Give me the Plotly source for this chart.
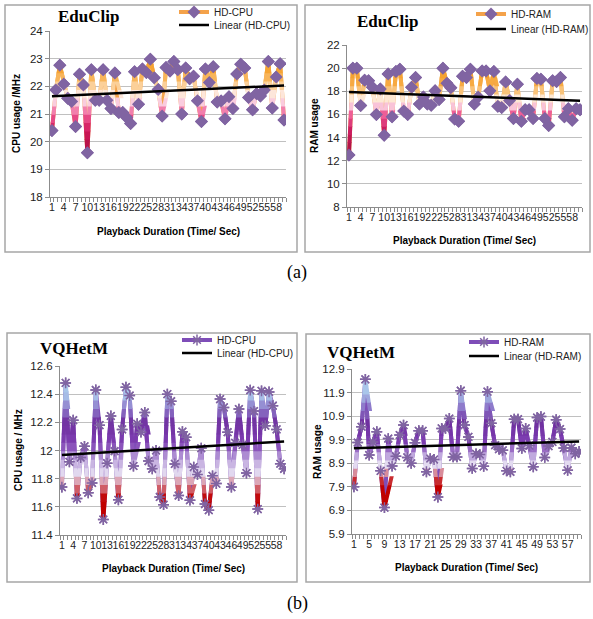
import numpy as np
import plotly.graph_objects as go

W, H = 593, 619

# ---------------- data ----------------
time_sec = list(range(1, 61))

educlip_cpu = [20.4, 21.87, 22.76, 22.08, 21.57, 21.45, 20.55, 22.44, 22.05, 19.6,
               22.6, 21.5, 21.5, 22.6, 21.5, 21.2, 22.48, 21.05, 21.05, 20.87,
               20.66, 22.53, 21.35, 22.63, 22.5, 22.98, 22.31, 21.89, 20.93, 22.68,
               22.55, 22.9, 22.6, 21.0, 22.66, 22.27, 22.36, 21.48, 20.73, 22.63,
               22.14, 22.71, 21.43, 21.47, 20.83, 21.62, 21.2, 22.45, 22.8, 22.66,
               21.6, 21.15, 21.73, 21.65, 21.87, 22.9, 21.22, 22.34, 22.82, 20.78]

educlip_ram = [12.49, 20.0, 20.0, 16.77, 18.95, 18.9, 18.35, 16.0, 18.2, 14.2,
               19.5, 15.8, 19.7, 19.9, 16.3, 16.0, 18.35, 19.2, 16.9, 17.5,
               16.9, 16.8, 18.05, 17.3, 20.0, 18.7, 18.3, 15.6, 15.4, 19.3,
               19.2, 19.9, 16.9, 17.5, 19.75, 19.75, 18.05, 19.7, 16.7, 16.6,
               18.8, 17.2, 15.65, 18.6, 15.4, 16.4, 16.4, 15.65, 19.1, 19.05,
               15.65, 15.05, 18.9, 18.85, 19.2, 15.8, 16.5, 15.5, 16.5, 16.4]

vqhetm_cpu = [11.74, 12.48, 11.92, 12.215, 11.66, 11.95, 12.03, 11.70, 11.77, 12.43,
              12.18, 11.51, 11.91, 12.245, 11.995, 11.65, 12.15, 12.45, 12.39, 11.89,
              12.19, 12.13, 12.27, 11.925, 11.87, 12.0, 11.67, 11.615, 12.40, 12.35,
              11.905, 11.68, 12.134, 12.094, 11.647, 11.882, 11.83, 12.016, 11.62, 11.576,
              11.82, 11.765, 12.365, 12.306, 12.13, 11.74, 12.054, 12.294, 12.04, 11.84,
              12.428, 12.28, 11.584, 12.424, 12.176, 12.416, 12.318, 12.15, 11.906, 11.87]

vqhetm_ram = [7.9, 9.78, 10.45, 12.46, 9.25, 9.8, 10.24, 8.58, 7.02, 9.95,
              8.78, 9.2, 10.1, 10.52, 9.15, 8.9, 9.77, 10.28, 10.28, 8.54,
              9.1, 9.06, 7.47, 10.38, 10.38, 10.8, 9.17, 9.17, 11.98, 10.52,
              10.02, 8.68, 9.3, 9.27, 8.77, 11.94, 10.6, 9.67, 9.5, 9.45,
              8.58, 8.54, 10.77, 10.77, 9.53, 10.38, 9.65, 8.75, 10.84, 10.88,
              9.15, 9.63, 9.81, 10.75, 10.35, 9.55, 8.6, 9.56, 9.3, 9.4]

xtick_every3 = list(range(1, 59, 3))      # 1, 4, 7, ... 58
xtick_every4 = list(range(1, 58, 4))      # 1, 5, 9, ... 57
ytick_edu_cpu = [18, 19, 20, 21, 22, 23, 24]
ytick_edu_ram = [8, 10, 12, 14, 16, 18, 20, 22]
ytick_vq_cpu = [11.4, 11.6, 11.8, 12.0, 12.2, 12.4, 12.6]
ytick_vq_cpu_text = ["11.4", "11.6", "11.8", "12", "12.2", "12.4", "12.6"]
ytick_vq_ram = [5.9, 6.9, 7.9, 8.9, 9.9, 10.9, 11.9, 12.9]
ytick_vq_ram_text = ["5.9", "6.9", "7.9", "8.9", "9.9", "10.9", "11.9", "12.9"]

# ---------------- styling ----------------
EDU_CPU_GRAD = [(19.6, '#A8103E'), (20.4, '#D0185A'), (21.0, '#EE5C96'), (21.5, '#FCDDE9'),
                (21.8, '#FDE9D6'), (22.2, '#F9BE6E'), (22.6, '#F6A434'), (23.0, '#F5A02E')]
EDU_RAM_GRAD = [(12.5, '#A8103E'), (14.5, '#C8185A'), (16.0, '#EE5C96'), (16.9, '#FCDDE9'),
                (17.4, '#FDE9D6'), (18.2, '#F9BE6E'), (19.0, '#F6A434'), (20.0, '#F5A02E')]
VQ_CPU_GRAD = [(11.5, '#C00000'), (11.66, '#C00000'), (11.76, '#D88A98'), (11.84, '#E4DCF0'),
               (11.95, '#B79CD9'), (12.05, '#7E3FB2'), (12.2, '#7030A0'), (12.3, '#8E7ACB'),
               (12.4, '#A9C6EA'), (12.5, '#A9C6EA')]
VQ_RAM_GRAD = [(7.0, '#C00000'), (8.0, '#C00000'), (8.5, '#D88A98'), (8.85, '#E4DCF0'),
               (9.3, '#B79CD9'), (9.8, '#7E3FB2'), (10.6, '#7030A0'), (11.3, '#8E7ACB'),
               (11.9, '#A9C6EA'), (12.6, '#A9C6EA')]

panels = [
    dict(vals=educlip_cpu, name='HD-CPU', title='EduClip', ytitle='CPU usage /MHz',
         yr=(18, 24), yt=ytick_edu_cpu, ytt=[str(v) for v in ytick_edu_cpu], xt=xtick_every3,
         box=(50, 286, 31, 197), grad=EDU_CPU_GRAD, legcol='#F4A24A',
         marker=dict(symbol='diamond', size=10, color='#8064A2'),
         title_xy=(88, 17), ytitle_xy=(17, 114), xtitle_xy=(168, 231),
         leg_x=174, leg_y=(12, 25), frame=(5, 297, 5, 252)),
    dict(vals=educlip_ram, name='HD-RAM', title='EduClip', ytitle='RAM usage',
         yr=(8, 22), yt=ytick_edu_ram, ytt=[str(v) for v in ytick_edu_ram], xt=xtick_every3,
         box=(347, 582, 45, 207), grad=EDU_RAM_GRAD, legcol='#F4A24A',
         marker=dict(symbol='diamond', size=10, color='#8064A2'),
         title_xy=(387, 21), ytitle_xy=(314, 126), xtitle_xy=(464, 240),
         leg_x=471, leg_y=(14, 29), frame=(305, 590, 5, 252)),
    dict(vals=vqhetm_cpu, name='HD-CPU', title='VQHetM', ytitle='CPU usage / MHz',
         yr=(11.4, 12.6), yt=ytick_vq_cpu, ytt=ytick_vq_cpu_text, xt=xtick_every3,
         box=(60, 286, 366, 535), grad=VQ_CPU_GRAD, legcol='#7E4DB8',
         marker=dict(symbol='asterisk-open', size=9, color='#8064A2', line=dict(width=1.5, color='#8064A2')),
         title_xy=(74, 348), ytitle_xy=(18, 450), xtitle_xy=(173, 568),
         leg_x=177, leg_y=(340, 353), frame=(7, 297, 333, 582)),
    dict(vals=vqhetm_ram, name='HD-RAM', title='VQHetM', ytitle='RAM usage',
         yr=(5.9, 12.9), yt=ytick_vq_ram, ytt=ytick_vq_ram_text, xt=xtick_every4,
         box=(352, 581, 369, 534), grad=VQ_RAM_GRAD, legcol='#7E4DB8',
         marker=dict(symbol='asterisk-open', size=9, color='#8064A2', line=dict(width=1.5, color='#8064A2')),
         title_xy=(361, 352), ytitle_xy=(317, 451), xtitle_xy=(466, 567),
         leg_x=464, leg_y=(342, 356), frame=(306, 590, 334, 582)),
]

N_BANDS = 20
LINE_W = 4
FONT = 'Liberation Sans'


def hex2rgb(h):
    h = h.lstrip('#')
    return tuple(int(h[i:i + 2], 16) for i in (0, 2, 4))


def grad_color(stops, v):
    if v <= stops[0][0]:
        return stops[0][1]
    if v >= stops[-1][0]:
        return stops[-1][1]
    for (v0, c0), (v1, c1) in zip(stops[:-1], stops[1:]):
        if v0 <= v <= v1:
            t = (v - v0) / (v1 - v0)
            a, b = hex2rgb(c0), hex2rgb(c1)
            r = [round(a[i] + (b[i] - a[i]) * t) for i in range(3)]
            return 'rgb(%d,%d,%d)' % tuple(r)
    return stops[-1][1]


def px_x(p):
    return p / W


def px_y(p):
    return 1 - p / H


fig = go.Figure()
layout = dict(width=W, height=H, margin=dict(l=0, r=0, t=0, b=0, autoexpand=False),
              paper_bgcolor='white', plot_bgcolor='rgba(0,0,0,0)', showlegend=True,
              font=dict(family=FONT, size=11, color='#222'))
annotations = []
shapes = []

ycount = 9   # two-digit axis ids keep the layer order unambiguous
legcount = 0


def next_y():
    global ycount
    ycount += 1
    return 'y%d' % ycount, 'yaxis%d' % ycount


def next_legend():
    global legcount
    legcount += 1
    return 'legend' if legcount == 1 else 'legend%d' % legcount


for k, p in enumerate(panels, start=1):
    xname = 'x' if k == 1 else 'x%d' % k
    xkey = 'xaxis' if k == 1 else 'xaxis%d' % k
    x0, x1, ytop, ybot = p['box']
    xd = [px_x(x0), px_x(x1)]
    yd = [px_y(ybot), px_y(ytop)]
    lo, hi = p['yr']

    ymain, ymainkey = next_y()
    layout[xkey] = dict(domain=xd, anchor=ymain, range=[0.5, 60.5], tickmode='array',
                        tickvals=p['xt'], ticktext=[str(v) for v in p['xt']], tickangle=0,
                        ticks='', showgrid=False, zeroline=False, showline=True,
                        linecolor='#8C8C8C', linewidth=1, fixedrange=True,
                        tickfont=dict(family=FONT, size=10.5, color='#222'),
                        minor=dict(tickmode='linear', tick0=0.5, dtick=1, ticks='outside',
                                   ticklen=4, tickcolor='#8C8C8C', showgrid=False))
    layout[ymainkey] = dict(domain=yd, anchor=xname, range=[lo, hi], tickmode='array',
                            tickvals=p['yt'], ticktext=p['ytt'], ticks='outside', ticklen=4,
                            tickcolor='#8C8C8C', showgrid=True, gridcolor='#C0C0C0',
                            gridwidth=1.3, zeroline=False, showline=True, linecolor='#8C8C8C',
                            linewidth=1, fixedrange=True,
                            tickfont=dict(family=FONT, size=11.5, color='#222'))

    leg_series = next_legend()
    leg_trend = next_legend()

    # base series (also provides the legend entry)
    fig.add_trace(go.Scatter(x=time_sec, y=p['vals'], mode='lines+markers', name=p['name'],
                             line=dict(color=p['legcol'], width=LINE_W), marker=p['marker'],
                             xaxis=xname, yaxis=ymain, legend=leg_series, hoverinfo='skip'))

    # vertical colour gradient: the same series drawn in horizontal slices, each slice
    # being its own subplot whose domain/range match the main axis scale
    step = (hi - lo) / N_BANDS
    px_val = (hi - lo) / (ybot - ytop)
    for i in range(N_BANDS):
        v0 = lo + i * step
        v1 = v0 + step
        if i > 0:
            v0 -= 0.8 * px_val
        dd0 = yd[0] + (v0 - lo) / (hi - lo) * (yd[1] - yd[0])
        dd1 = yd[0] + (v1 - lo) / (hi - lo) * (yd[1] - yd[0])
        yb, ybkey = next_y()
        layout[ybkey] = dict(domain=[dd0, dd1], range=[v0, v1], anchor=xname,
                             visible=False, showgrid=False, zeroline=False, fixedrange=True)
        col = grad_color(p['grad'], (v0 + v1) / 2)
        fig.add_trace(go.Scatter(x=time_sec, y=p['vals'], mode='lines',
                                 line=dict(color=col, width=LINE_W), showlegend=False,
                                 xaxis=xname, yaxis=yb, hoverinfo='skip'))

    # top layer: markers and linear trend
    yt_, ytkey = next_y()
    layout[ytkey] = dict(domain=yd, range=[lo, hi], anchor=xname,
                         visible=False, showgrid=False, zeroline=False, fixedrange=True)
    fig.add_trace(go.Scatter(x=time_sec, y=p['vals'], mode='markers', marker=p['marker'],
                             showlegend=False, xaxis=xname, yaxis=yt_, hoverinfo='skip'))
    slope, icpt = np.polyfit(time_sec, p['vals'], 1)
    trend = [slope * t + icpt for t in time_sec]
    fig.add_trace(go.Scatter(x=time_sec, y=trend, mode='lines', name='Linear (%s)' % p['name'],
                             line=dict(color='black', width=2.5), xaxis=xname, yaxis=yt_,
                             legend=leg_trend, hoverinfo='skip'))

    for lname, ly in zip((leg_series, leg_trend), p['leg_y']):
        layout[lname] = dict(x=px_x(p['leg_x']), y=px_y(ly), xanchor='left', yanchor='middle',
                             bgcolor='rgba(0,0,0,0)', borderwidth=0, itemwidth=30,
                             font=dict(family=FONT, size=10, color='#222'))

    tx, ty = p['title_xy']
    annotations.append(dict(x=px_x(tx), y=px_y(ty), xref='paper', yref='paper',
                            xanchor='center', yanchor='middle',
                            text='<b>%s</b>' % p['title'], showarrow=False,
                            font=dict(family='Liberation Serif', size=17, color='black')))
    ax_, ay_ = p['ytitle_xy']
    annotations.append(dict(x=px_x(ax_), y=px_y(ay_), xref='paper', yref='paper',
                            xanchor='center', yanchor='middle',
                            text='<b>%s</b>' % p['ytitle'], showarrow=False, textangle=-90,
                            font=dict(family=FONT, size=10, color='black')))
    bx, by = p['xtitle_xy']
    annotations.append(dict(x=px_x(bx), y=px_y(by), xref='paper', yref='paper',
                            xanchor='center', yanchor='middle',
                            text='<b>Playback Duration (Time/ Sec)</b>', showarrow=False,
                            font=dict(family=FONT, size=10, color='black')))
    f0, f1, f2, f3 = p['frame']
    shapes.append(dict(type='rect', xref='paper', yref='paper', x0=px_x(f0), x1=px_x(f1),
                       y0=px_y(f3), y1=px_y(f2), line=dict(color='#A6A6A6', width=1.5),
                       fillcolor='rgba(0,0,0,0)', layer='below'))

for txt, yy in (('(a)', 272), ('(b)', 603)):
    annotations.append(dict(x=px_x(297), y=px_y(yy), xref='paper', yref='paper', text=txt,
                            xanchor='center', yanchor='middle', showarrow=False,
                            font=dict(family='Liberation Serif', size=18, color='black')))

layout['annotations'] = annotations
layout['shapes'] = shapes
fig.update_layout(**layout)
fig.write_html('out.html', config={'displayModeBar': False},
               post_script="document.body.style.margin='0';")
